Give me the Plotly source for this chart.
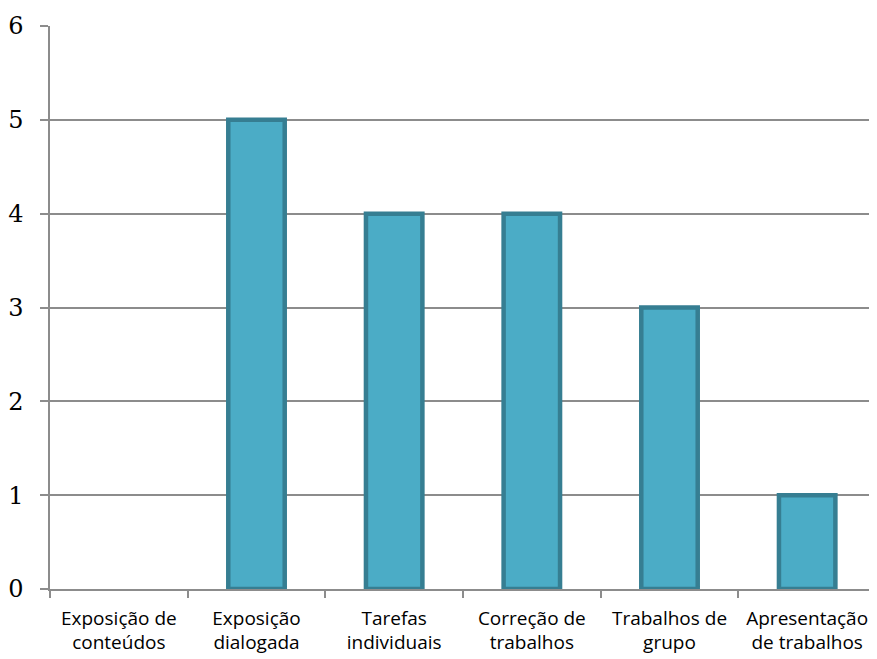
import plotly.graph_objects as go

categories = ["Exposição de<br>conteúdos", "Exposição<br>dialogada", "Tarefas<br>individuais",
              "Correção de<br>trabalhos", "Trabalhos de<br>grupo", "Apresentação<br>de trabalhos"]
values = [0, 5, 4, 4, 3, 1]
y_ticks = [0, 1, 2, 3, 4, 5, 6]

fig = go.Figure(go.Bar(
    x=categories, y=values,
    marker=dict(color="#4BACC6",
                line=dict(color="#367E92", width=[4.5 if v > 0 else 0 for v in values])),
    width=0.41,
))

# page body has an 8px margin, so the figure is sized to fit the window
fig.update_layout(
    width=869, height=651,
    margin=dict(l=42, r=1, t=18, b=70),
    plot_bgcolor="white", paper_bgcolor="white",
    showlegend=False,
    font=dict(family="'Open Sans', sans-serif", size=17, color="black"),
)
fig.update_xaxes(
    automargin=False, tickangle=0,
    showline=True, linecolor="#8c8c8c", linewidth=1.5,
    ticks="outside", tickson="boundaries", ticklen=7, tickcolor="#8c8c8c", tickwidth=1.5,
    tickfont=dict(family="'Open Sans', sans-serif", size=19),
    ticklabelstandoff=11,
    showgrid=False,
)
fig.update_yaxes(
    automargin=False,
    range=[0, 6], tickvals=y_ticks,
    showline=True, linecolor="#8c8c8c", linewidth=1.5,
    ticks="outside", ticklen=8, tickcolor="#8c8c8c", tickwidth=1.5,
    showgrid=True, gridcolor="#8c8c8c", gridwidth=1.5,
    zeroline=False,
    tickfont=dict(family="'DejaVu Serif', serif", size=24),
    ticklabelstandoff=12,
)

fig.write_html("out.html")
